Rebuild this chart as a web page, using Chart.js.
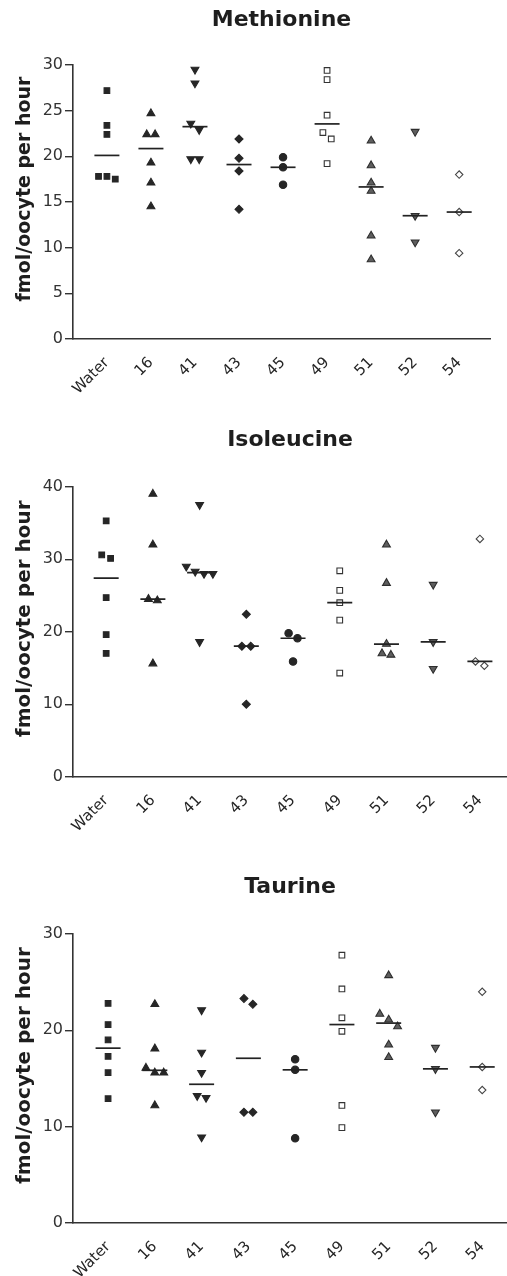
<!DOCTYPE html>
<html>
<head>
<meta charset="utf-8">
<script src="https://cdn.jsdelivr.net/npm/chart.js@4.4.0/dist/chart.umd.min.js"></script>
<style>
  body { margin: 0; background: #fff; width: 507px; height: 1276px; position: relative; overflow: hidden; }
  .panel { position: absolute; left: 0; width: 507px; }
</style>
</head>
<body>
<div class="panel" style="top:0px;height:400px"><canvas id="met"></canvas></div>
<div class="panel" style="top:420px;height:420px"><canvas id="ile"></canvas></div>
<div class="panel" style="top:860px;height:416px"><canvas id="tau"></canvas></div>
<script>
// groups on the x axis
var categories = ['Water', '16', '41', '43', '45', '49', '51', '52', '54'];

// fmol/oocyte per hour, one list per group
var methionine = [
  [27.2, 23.4, 22.4, 17.8, 17.5, 17.8],
  [24.7, 22.4, 22.4, 19.3, 17.1, 14.5],
  [29.5, 28.0, 23.6, 22.9, 19.7, 19.7],
  [21.9, 19.8, 18.4, 14.2],
  [19.9, 18.8, 16.9],
  [29.4, 28.4, 24.5, 22.6, 21.9, 19.2],
  [21.7, 19.0, 17.1, 16.2, 11.3, 8.7],
  [22.7, 13.5, 10.6],
  [18.0, 13.9, 9.4]
];
var isoleucine = [
  [35.3, 30.6, 30.1, 24.7, 19.6, 17.0],
  [39.0, 32.0, 24.5, 24.3, 15.6],
  [37.5, 29.0, 28.3, 28.0, 28.0, 18.6],
  [22.4, 18.0, 18.0, 10.0],
  [19.8, 19.1, 15.9],
  [28.4, 25.7, 24.0, 21.6, 14.3],
  [32.0, 26.7, 18.3, 17.0, 16.8],
  [26.5, 18.6, 14.9],
  [32.8, 15.9, 15.3]
];
var taurine = [
  [22.8, 20.6, 19.0, 17.3, 15.6, 12.9],
  [22.7, 18.1, 16.1, 15.6, 15.6, 12.2],
  [22.1, 17.7, 15.6, 13.2, 13.0, 8.9],
  [23.3, 22.7, 11.5, 11.5],
  [17.0, 15.9, 8.8],
  [27.8, 24.3, 21.3, 19.9, 12.2, 9.9],
  [25.7, 21.7, 21.1, 20.4, 18.5, 17.2],
  [18.2, 16.0, 11.5],
  [24.0, 16.2, 13.8]
];

var yMax = [30, 40, 30];
var yStep = [5, 10, 10];
var yLabel = 'fmol/oocyte per hour';

// marker look per group
var dark = '#262626';
var markers = [
  { style: 'rect',     rot: 0,   fill: dark,   line: dark,   r: 4.0 },
  { style: 'triangle', rot: 0,   fill: dark,   line: dark,   r: 4.5 },
  { style: 'triangle', rot: 180, fill: dark,   line: dark,   r: 4.5 },
  { style: 'rectRot',  rot: 0,   fill: dark,   line: dark,   r: 4.0 },
  { style: 'circle',   rot: 0,   fill: dark,   line: dark,   r: 3.7 },
  { style: 'rect',     rot: 0,   fill: '#fff', line: '#333', r: 4.0 },
  { style: 'triangle', rot: 0,   fill: '#5e5e5e', line: '#2e2e2e', r: 4.5 },
  { style: 'triangle', rot: 180, fill: '#5e5e5e', line: '#2e2e2e', r: 4.5 },
  { style: 'rectRot',  rot: 0,   fill: '#fff', line: '#444', r: 3.7 }
];

function median(v) {
  var s = v.slice().sort(function (a, b) { return a - b; });
  var m = Math.floor(s.length / 2);
  return s.length % 2 ? s[m] : (s[m - 1] + s[m]) / 2;
}

// spread points sideways when they would sit on top of each other
function dodge(values, near) {
  var idx = values.map(function (v, i) { return i; }).sort(function (a, b) { return values[b] - values[a]; });
  var off = values.map(function () { return 0; });
  var cluster = [idx[0]];
  function flush() {
    var k = cluster.length;
    cluster.forEach(function (j, n) { off[j] = (n - (k - 1) / 2) * 0.19; });
  }
  for (var i = 1; i < idx.length; i++) {
    if (values[cluster[cluster.length - 1]] - values[idx[i]] < near) cluster.push(idx[i]);
    else { flush(); cluster = [idx[i]]; }
  }
  flush();
  return off;
}

// y axis title, sits a little above the middle of the axis like the original
var yTitle = {
  id: 'yTitle',
  afterDraw: function (chart, args, opts) {
    var ctx = chart.ctx, a = chart.chartArea;
    ctx.save();
    ctx.translate(25, (a.top + a.bottom) / 2 - 13);
    ctx.rotate(-Math.PI / 2);
    ctx.font = 'bold ' + opts.size + 'px "DejaVu Sans"';
    ctx.fillStyle = '#1e1e1e';
    ctx.textAlign = 'center';
    ctx.textBaseline = 'middle';
    ctx.fillText(yLabel, 0, 0);
    ctx.restore();
  }
};

function makeChart(id, title, groups, ymax, step, lay) {
  var near = ymax * 0.03;
  var datasets = [{
    data: groups.map(function (g, i) { return { x: i, y: median(g) }; }),
    pointStyle: 'line', pointRadius: 12.5, borderColor: '#222', borderWidth: 1.7, backgroundColor: '#222'
  }];
  groups.forEach(function (g, i) {
    var off = dodge(g, near);
    var m = markers[i];
    datasets.push({
      data: g.map(function (v, j) { return { x: i + off[j], y: v }; }),
      pointStyle: m.style, rotation: m.rot, pointRadius: m.r,
      backgroundColor: m.fill, borderColor: m.line, borderWidth: 1.1
    });
  });

  new Chart(document.getElementById(id), {
    type: 'scatter',
    data: { datasets: datasets },
    plugins: [yTitle],
    options: {
      responsive: true,
      maintainAspectRatio: false,
      animation: false,
      events: [],
      layout: { autoPadding: false, padding: { left: 0, right: lay.right, top: 0, bottom: 0 } },
      plugins: {
        legend: { display: false },
        tooltip: { enabled: false },
        yTitle: { size: lay.labelSize },
        title: {
          display: true, text: title, color: '#1e1e1e', fullSize: false,
          font: { family: 'DejaVu Sans', size: 22, weight: 'bold', lineHeight: 1.2 },
          padding: { top: lay.titleTop, bottom: lay.titleBottom }
        }
      },
      scales: {
        x: {
          type: 'linear', min: lay.xmin, max: lay.xmax,
          afterBuildTicks: function (s) { s.ticks = categories.map(function (c, i) { return { value: i }; }); },
          afterFit: function (s) { s.height = lay.xh; s.paddingLeft = 0; s.paddingRight = 0; },
          grid: { display: false },
          border: { display: true, color: '#333', width: 1.6 },
          ticks: {
            autoSkip: false, minRotation: 45, maxRotation: 45, padding: 7, color: '#262626',
            font: { family: 'DejaVu Sans', size: 15 },
            callback: function (v) { return categories[v] !== undefined ? categories[v] : ''; }
          }
        },
        y: {
          min: 0, max: ymax,
          afterFit: function (s) { s.width = 73; },
          grid: { drawOnChartArea: false, drawTicks: true, tickLength: 8, color: '#333', lineWidth: 1.4 },
          border: { display: true, color: '#333', width: 1.6 },
          ticks: { stepSize: step, padding: 2, color: '#333', font: { family: 'DejaVu Sans', size: 16 } }
        }
      }
    }
  });
}

makeChart('met', 'Methionine', methionine, yMax[0], yStep[0],
  { right: 17, xmin: -0.77, xmax: 8.7, titleTop: 6.8, titleBottom: 31.8, xh: 61, labelSize: 19 });
makeChart('ile', 'Isoleucine', isoleucine, yMax[1], yStep[1],
  { right: 0, xmin: -0.71, xmax: 8.58, titleTop: 6.8, titleBottom: 33.5, xh: 63.3, labelSize: 20 });
makeChart('tau', 'Taurine', taurine, yMax[2], yStep[2],
  { right: 0, xmin: -0.75, xmax: 8.53, titleTop: 13.8, titleBottom: 33.8, xh: 53, labelSize: 20 });
</script>
</body>
</html>
